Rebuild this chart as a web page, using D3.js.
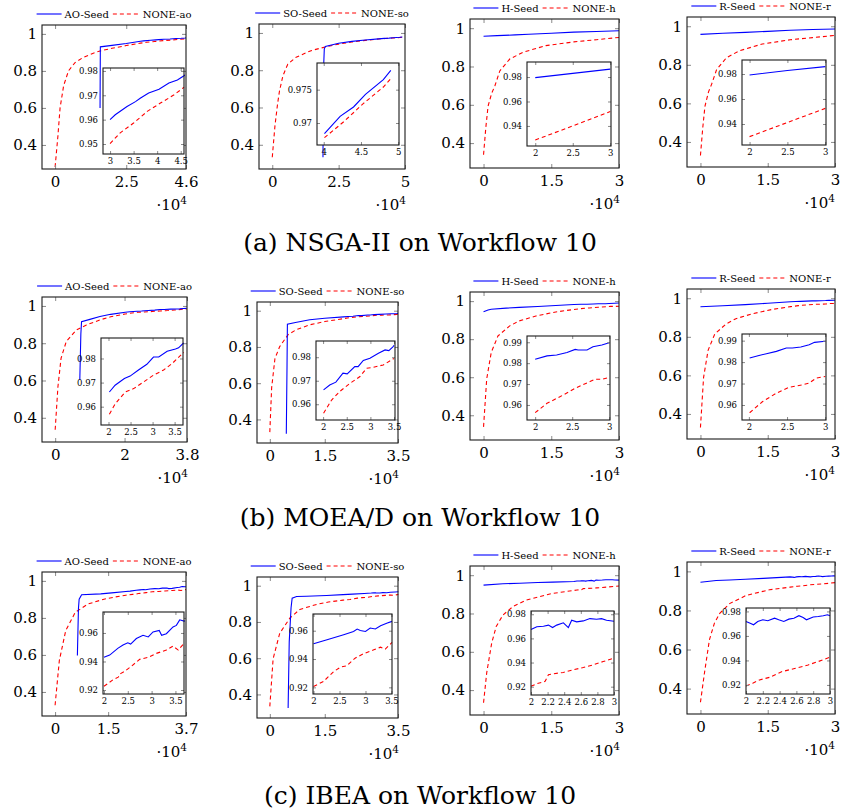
<!DOCTYPE html>
<html>
<head>
<meta charset="utf-8">
<script src="https://cdn.jsdelivr.net/npm/d3@7"></script>
<style>
  body { margin: 0; background: #fff; }
  svg text { font-family: "DejaVu Serif", serif; fill: #000; }
</style>
</head>
<body>
<div id="chart"></div>
<script>
// ---- data (x in units of 10^4 evaluations) ----
const captions = ["(a) NSGA-II on Workflow 10", "(b) MOEA/D on Workflow 10", "(c) IBEA on Workflow 10"];
const seedNames = ["AO-Seed", "SO-Seed", "H-Seed", "R-Seed"];
const noneNames = ["NONE-ao", "NONE-so", "NONE-h", "NONE-r"];

const mainYTicks = [0.4, 0.6, 0.8, 1];
const mainXTicks = [
  [0, 2.5, 4.6], [0, 2.5, 5], [0, 1.5, 3], [0, 1.5, 3],
  [0, 2, 3.8], [0, 1.5, 3.5], [0, 1.5, 3], [0, 1.5, 3],
  [0, 1.5, 3.7], [0, 1.5, 3.5], [0, 1.5, 3], [0, 1.5, 3]
];
const zoomXTicks = [
  [3, 3.5, 4, 4.5], [4, 4.5, 5], [2, 2.5, 3], [2, 2.5, 3],
  [2, 2.5, 3, 3.5], [2, 2.5, 3, 3.5], [2, 2.5, 3], [2, 2.5, 3],
  [2, 2.5, 3, 3.5], [2, 2.5, 3, 3.5], [2, 2.2, 2.4, 2.6, 2.8, 3], [2, 2.2, 2.4, 2.6, 2.8, 3]
];
const zoomYTicks = [
  [0.95, 0.96, 0.97, 0.98], [0.97, 0.975], [0.94, 0.96, 0.98], [0.94, 0.96, 0.98],
  [0.96, 0.97, 0.98], [0.96, 0.97, 0.98], [0.96, 0.97, 0.98, 0.99], [0.96, 0.97, 0.98, 0.99],
  [0.92, 0.94, 0.96], [0.92, 0.94, 0.96], [0.92, 0.94, 0.96, 0.98], [0.92, 0.94, 0.96, 0.98]
];

// NSGA-II
const nsgaAoSeed = [[1.58,0.60],[1.59,0.93],[2.0,0.938],[2.5,0.948],[3.0,0.96],[3.11,0.962],[3.36,0.9654],[3.54,0.9674],[3.64,0.9688],[3.82,0.9709],[4.04,0.9725],[4.25,0.975],[4.43,0.9763],[4.57,0.978],[4.6,0.9785]];
const nsgaAoNone = [[0,0.28],[0.1,0.45],[0.175,0.6],[0.3,0.72],[0.47,0.8],[0.7,0.845],[0.98,0.872],[1.3,0.893],[1.58,0.908],[2.0,0.922],[2.5,0.937],[3.0,0.9502],[3.21,0.9545],[3.5,0.9586],[3.79,0.9634],[4.07,0.9668],[4.36,0.9702],[4.57,0.9733]];
const nsgaSoSeed = [[1.91,0.333],[1.93,0.8],[1.96,0.915],[2.0,0.928],[2.5,0.945],[3.0,0.955],[3.5,0.962],[4.01,0.9684],[4.22,0.971],[4.4,0.9724],[4.56,0.9743],[4.8,0.9765],[4.9,0.9779]];
const nsgaSoNone = [[0,0.333],[0.1,0.5],[0.2,0.62],[0.27,0.687],[0.4,0.77],[0.585,0.833],[0.9,0.87],[1.46,0.905],[2.0,0.925],[2.5,0.94],[3.0,0.951],[3.5,0.96],[4.01,0.9678],[4.27,0.9702],[4.53,0.9729],[4.8,0.9754],[4.91,0.9768]];
const nsgaHSeed = [[0,0.958],[0.3,0.961],[0.7,0.965],[1.0,0.968],[1.5,0.9735],[2.0,0.9795],[2.5,0.983],[3.0,0.9865]];
const nsgaHNone = [[0,0.339],[0.05,0.48],[0.1,0.593],[0.18,0.66],[0.25,0.698],[0.36,0.777],[0.58,0.839],[0.87,0.874],[1.38,0.909],[2.0,0.9285],[2.5,0.94],[3.0,0.9518]];
const nsgaRSeed = [[0,0.958],[0.5,0.9635],[1.0,0.968],[1.5,0.9735],[2.0,0.9792],[2.5,0.9828],[3.0,0.9859]];
const nsgaRNone = [[0,0.33],[0.05,0.47],[0.1,0.585],[0.18,0.66],[0.25,0.7],[0.36,0.775],[0.58,0.837],[0.87,0.873],[1.38,0.908],[2.0,0.9299],[2.5,0.9412],[3.0,0.9525]];

// MOEA/D
const moeadAoSeed = [[0.71,0.604],[0.74,0.85],[0.76,0.916],[1.0,0.928],[1.29,0.943],[1.6,0.955],[2.02,0.9661],[2.15,0.9689],[2.36,0.9717],[2.49,0.9727],[2.68,0.9752],[2.87,0.9776],[3.02,0.9806],[3.14,0.9806],[3.33,0.983],[3.52,0.9839],[3.59,0.9844],[3.69,0.9862],[3.79,0.987]];
const moeadAoNone = [[0,0.336],[0.08,0.568],[0.17,0.72],[0.32,0.809],[0.61,0.871],[0.9,0.898],[1.29,0.925],[1.6,0.942],[2.02,0.9569],[2.15,0.9611],[2.38,0.9661],[2.57,0.9675],[2.8,0.9703],[3.02,0.9731],[3.25,0.9752],[3.45,0.978],[3.69,0.9823],[3.79,0.983]];
const moeadSoSeed = [[0.45,0.321],[0.47,0.7],[0.48,0.925],[0.7,0.935],[1.09,0.95],[1.5,0.958],[2.01,0.9661],[2.14,0.9682],[2.27,0.9694],[2.42,0.9732],[2.51,0.9729],[2.67,0.976],[2.74,0.976],[2.85,0.9786],[2.99,0.9796],[3.17,0.9817],[3.31,0.9831],[3.39,0.9828],[3.47,0.9843],[3.5,0.985]];
const moeadSoNone = [[0,0.33],[0.05,0.575],[0.14,0.736],[0.27,0.802],[0.5,0.868],[0.73,0.896],[1.09,0.922],[1.5,0.94],[2.01,0.9562],[2.18,0.9618],[2.35,0.9654],[2.57,0.9689],[2.78,0.9718],[2.92,0.9753],[3.06,0.9757],[3.27,0.9767],[3.47,0.9791],[3.5,0.9795]];
const moeadHSeed = [[0,0.944],[0.1,0.953],[0.17,0.957],[0.5,0.963],[0.79,0.967],[1.2,0.972],[1.6,0.977],[2.0,0.9819],[2.16,0.9835],[2.29,0.9839],[2.43,0.9851],[2.54,0.9866],[2.58,0.9863],[2.7,0.9863],[2.78,0.9879],[2.9,0.9887],[3.0,0.9898]];
const moeadHNone = [[0,0.339],[0.07,0.591],[0.17,0.73],[0.32,0.817],[0.58,0.87],[0.79,0.896],[1.16,0.922],[1.6,0.943],[2.0,0.9563],[2.16,0.9608],[2.34,0.964],[2.54,0.968],[2.74,0.9712],[2.81,0.9723],[2.9,0.9723],[3.0,0.9732]];
const moeadRSeed = [[0,0.956],[0.5,0.961],[1.0,0.967],[1.5,0.974],[2.01,0.9819],[2.12,0.983],[2.23,0.9839],[2.36,0.985],[2.49,0.9866],[2.57,0.9866],[2.68,0.987],[2.79,0.9881],[2.86,0.9892],[3.0,0.9897]];
const moeadRNone = [[0,0.33],[0.07,0.59],[0.17,0.73],[0.32,0.815],[0.58,0.868],[0.79,0.894],[1.16,0.92],[1.6,0.942],[2.01,0.9564],[2.18,0.9616],[2.36,0.9655],[2.53,0.9683],[2.7,0.9694],[2.79,0.9702],[2.88,0.9725],[3.0,0.9733]];

// IBEA
const ibeaAoSeed = [[0.63,0.597],[0.66,0.85],[0.68,0.901],[0.75,0.925],[1.29,0.93],[1.6,0.935],[2.0,0.9429],[2.12,0.9445],[2.29,0.9492],[2.4,0.9515],[2.5,0.9531],[2.56,0.9522],[2.68,0.9561],[2.82,0.9584],[2.93,0.9572],[3.03,0.9607],[3.16,0.9618],[3.21,0.9584],[3.31,0.9595],[3.45,0.9642],[3.52,0.9653],[3.59,0.9692],[3.68,0.9683],[3.7,0.9685]];
const ibeaAoNone = [[0,0.328],[0.12,0.57],[0.3,0.731],[0.57,0.83],[0.93,0.875],[1.38,0.901],[1.7,0.913],[2.0,0.9226],[2.19,0.9272],[2.3,0.929],[2.35,0.9315],[2.43,0.933],[2.57,0.9365],[2.75,0.9415],[2.93,0.9429],[3.1,0.9457],[3.31,0.948],[3.45,0.9508],[3.56,0.948],[3.68,0.9526],[3.7,0.953]];
const ibeaSoSeed = [[0.5,0.325],[0.53,0.69],[0.58,0.878],[0.61,0.931],[0.73,0.94],[1.0,0.942],[1.55,0.946],[2.0,0.9508],[2.26,0.9536],[2.58,0.9572],[2.77,0.9595],[2.84,0.9612],[2.9,0.9602],[3.0,0.9595],[3.09,0.9619],[3.19,0.9612],[3.29,0.9635],[3.42,0.9654],[3.51,0.9666]];
const ibeaSoNone = [[0,0.334],[0.09,0.597],[0.27,0.737],[0.55,0.822],[0.82,0.869],[1.28,0.897],[1.6,0.91],[2.0,0.9206],[2.19,0.9241],[2.39,0.9312],[2.52,0.9343],[2.64,0.9352],[2.8,0.9406],[2.96,0.9437],[3.16,0.9465],[3.29,0.9484],[3.38,0.947],[3.51,0.9517]];
const ibeaHSeed = [[0,0.948],[0.43,0.955],[0.8,0.958],[1.2,0.962],[1.53,0.964],[2.0,0.9674],[2.07,0.9696],[2.15,0.9701],[2.21,0.971],[2.26,0.969],[2.31,0.971],[2.39,0.9729],[2.45,0.969],[2.49,0.9751],[2.55,0.9737],[2.63,0.9745],[2.71,0.9764],[2.79,0.9759],[2.85,0.9764],[2.91,0.9751],[3.0,0.9742]];
const ibeaHNone = [[0,0.334],[0.07,0.49],[0.18,0.645],[0.28,0.732],[0.43,0.792],[0.65,0.836],[0.94,0.87],[1.53,0.905],[2.0,0.9203],[2.07,0.9225],[2.17,0.9244],[2.21,0.9299],[2.27,0.9307],[2.39,0.9318],[2.51,0.934],[2.63,0.9359],[2.75,0.9381],[2.87,0.9408],[3.0,0.9436]];
const ibeaRSeed = [[0,0.944],[0.35,0.953],[0.65,0.956],[1.0,0.96],[1.4,0.964],[2.0,0.9718],[2.05,0.9704],[2.09,0.9691],[2.14,0.9718],[2.2,0.9732],[2.26,0.9724],[2.34,0.9745],[2.39,0.9732],[2.45,0.9718],[2.51,0.9737],[2.57,0.9745],[2.63,0.9765],[2.68,0.9751],[2.72,0.9732],[2.8,0.9754],[2.86,0.9759],[2.92,0.9765],[2.97,0.9773],[3.0,0.9765]];
const ibeaRNone = [[0,0.33],[0.09,0.481],[0.2,0.65],[0.31,0.734],[0.43,0.785],[0.65,0.835],[1.02,0.877],[1.54,0.906],[2.0,0.9192],[2.08,0.9213],[2.16,0.9241],[2.28,0.9262],[2.43,0.9309],[2.59,0.9336],[2.74,0.9363],[2.86,0.9391],[3.0,0.9426]];

const seedSeries = [nsgaAoSeed, nsgaSoSeed, nsgaHSeed, nsgaRSeed, moeadAoSeed, moeadSoSeed, moeadHSeed, moeadRSeed, ibeaAoSeed, ibeaSoSeed, ibeaHSeed, ibeaRSeed];
const noneSeries = [nsgaAoNone, nsgaSoNone, nsgaHNone, nsgaRNone, moeadAoNone, moeadSoNone, moeadHNone, moeadRNone, ibeaAoNone, ibeaSoNone, ibeaHNone, ibeaRNone];

// ---- layout (pixels) ----
// main axis box: [left, right, top, bottom]
const mainBoxes = [
  [42, 186, 25, 169], [259, 405, 24, 169], [470, 619, 19, 168], [687, 835, 17, 167],
  [42, 187, 297, 442], [257, 398, 302, 443], [470, 619, 292, 440], [687, 835, 289, 439],
  [42, 186, 572, 716], [257, 398, 577, 718], [470, 619, 566, 715], [687, 835, 562, 714]
];
// zoomed inset box and its domain [xmin, xmax, ymin, ymax]
const insetBoxes = [
  [103, 184, 68, 154], [317, 399, 63, 145], [527, 611, 62, 146], [742, 826, 60, 145],
  [101, 183, 338, 425], [316, 395, 341, 420], [527, 610, 336, 420], [742, 826, 334, 420],
  [103, 184, 612, 694], [313, 392, 614, 694], [531, 614, 611, 695], [746, 830, 608, 694]
];
const insetDomains = [
  [2.85, 4.57, 0.9459, 0.9812], [3.91, 5.01, 0.9667, 0.979], [1.89, 3.01, 0.9236, 0.9923], [1.9, 3.01, 0.9232, 0.9912],
  [1.83, 3.69, 0.9524, 0.9885], [1.85, 3.52, 0.9533, 0.9869], [1.89, 3.01, 0.9528, 0.993], [1.91, 3.01, 0.953, 0.9931],
  [1.98, 3.68, 0.9172, 0.9747], [1.99, 3.51, 0.9153, 0.9718], [2, 3, 0.9131, 0.9827], [2, 3, 0.9126, 0.9828]
];
const captionY = [251, 526, 804];

const BLUE = "#0000ff", RED = "#ff0000";

const svg = d3.select("#chart").append("svg")
    .attr("width", 841)
    .attr("height", 812);
const defs = svg.append("defs");

function styleAxis(g, fontSize) {
    g.select(".domain").remove();
    g.selectAll(".tick line").attr("stroke", "#8a8a8a").attr("stroke-width", 1);
    g.selectAll(".tick text")
        .attr("font-family", "DejaVu Serif, serif")
        .attr("font-size", fontSize)
        .attr("fill", "#000");
    g.attr("font-family", null).attr("font-size", null);
}

// draws frame + inward ticks on all four sides
function drawAxes(g, x, y, xt, yt, tickLen, fontSize, padX, padY) {
    const [x0, x1] = x.range();
    const [y1, y0] = y.range();
    const fmt = d => String(+d.toFixed(4));

    g.append("g").attr("transform", `translate(0,${y1})`)
        .call(d3.axisBottom(x).tickValues(xt).tickSize(-tickLen).tickSizeOuter(0).tickPadding(padX).tickFormat(fmt))
        .call(a => styleAxis(a, fontSize));
    g.append("g").attr("transform", `translate(0,${y0})`)
        .call(d3.axisTop(x).tickValues(xt).tickSize(-tickLen).tickSizeOuter(0).tickFormat(""))
        .call(a => styleAxis(a, fontSize));
    g.append("g").attr("transform", `translate(${x0},0)`)
        .call(d3.axisLeft(y).tickValues(yt).tickSize(-tickLen).tickSizeOuter(0).tickPadding(padY).tickFormat(fmt))
        .call(a => styleAxis(a, fontSize));
    g.append("g").attr("transform", `translate(${x1},0)`)
        .call(d3.axisRight(y).tickValues(yt).tickSize(-tickLen).tickSizeOuter(0).tickFormat(""))
        .call(a => styleAxis(a, fontSize));

    g.append("rect")
        .attr("x", x0).attr("y", y0)
        .attr("width", x1 - x0).attr("height", y1 - y0)
        .attr("fill", "none")
        .attr("stroke", "#1a1a1a")
        .attr("stroke-width", 1.1);
}

function drawLines(g, x, y, seed, none, clipId) {
    const line = d3.line().x(d => x(d[0])).y(d => y(d[1]));
    const lg = g.append("g").attr("clip-path", `url(#${clipId})`);
    lg.append("path").attr("d", line(none))
        .attr("fill", "none").attr("stroke", RED).attr("stroke-width", 1.1)
        .attr("stroke-dasharray", "4,3");
    lg.append("path").attr("d", line(seed))
        .attr("fill", "none").attr("stroke", BLUE).attr("stroke-width", 1.1);
}

function addClip(id, box) {
    defs.append("clipPath").attr("id", id)
        .append("rect")
        .attr("x", box[0] - 1).attr("y", box[2] - 1)
        .attr("width", box[1] - box[0] + 2).attr("height", box[3] - box[2] + 2);
}

d3.range(12).forEach(i => {
    const col = i % 4;
    const [bx0, bx1, by0, by1] = mainBoxes[i];
    const xt = mainXTicks[i];
    const xMax = xt[xt.length - 1];

    const x = d3.scaleLinear().domain([-0.1 * xMax, xMax]).range([bx0, bx1]);
    const y = d3.scaleLinear().domain([0.27, 1.048]).range([by1, by0]);

    const g = svg.append("g").attr("class", "panel" + i);

    addClip("clipMain" + i, mainBoxes[i]);
    drawLines(g, x, y, seedSeries[i], noneSeries[i], "clipMain" + i);
    drawAxes(g, x, y, xt, mainYTicks, 4, 15, 7, 5);

    // x-axis scale label
    const sc = g.append("text")
        .attr("x", Math.min(bx1 + 1, 835))
        .attr("y", by1 + 41)
        .attr("text-anchor", "end")
        .attr("font-size", 15)
        .text("·10");
    sc.append("tspan").attr("dy", -6).attr("font-size", 10.5).text("4");

    // legend above the box
    const leg = g.append("g");
    const ly = by0 - 11;
    const t1 = leg.append("text").attr("font-size", 10).attr("y", ly + 3.5).text(seedNames[col]);
    const t2 = leg.append("text").attr("font-size", 10).attr("y", ly + 3.5).text(noneNames[col]);
    const w1 = t1.node().getComputedTextLength();
    const w2 = t2.node().getComputedTextLength();
    const total = 25 + 3 + w1 + 4 + 25 + 5 + w2;
    let lx = (bx0 + bx1) / 2 - total / 2;
    leg.append("line").attr("x1", lx).attr("x2", lx + 25).attr("y1", ly).attr("y2", ly)
        .attr("stroke", BLUE).attr("stroke-width", 1.1);
    t1.attr("x", lx + 28);
    lx += 28 + w1 + 4;
    leg.append("line").attr("x1", lx).attr("x2", lx + 25).attr("y1", ly).attr("y2", ly)
        .attr("stroke", RED).attr("stroke-width", 1.1).attr("stroke-dasharray", "4,3");
    t2.attr("x", lx + 30);

    // zoomed inset
    const ib = insetBoxes[i];
    const dom = insetDomains[i];
    const zx = d3.scaleLinear().domain([dom[0], dom[1]]).range([ib[0], ib[1]]);
    const zy = d3.scaleLinear().domain([dom[2], dom[3]]).range([ib[3], ib[2]]);
    const start = zoomXTicks[i][0] - 1e-9;
    const ig = g.append("g");
    ig.append("rect")
        .attr("x", ib[0]).attr("y", ib[2])
        .attr("width", ib[1] - ib[0]).attr("height", ib[3] - ib[2])
        .attr("fill", "#fff");
    addClip("clipZoom" + i, ib);
    drawLines(ig, zx, zy,
        seedSeries[i].filter(d => d[0] >= start),
        noneSeries[i].filter(d => d[0] >= start),
        "clipZoom" + i);
    drawAxes(ig, zx, zy, zoomXTicks[i], zoomYTicks[i], 3, 8.5, 4, 5);
});

captions.forEach((c, r) => {
    svg.append("text")
        .attr("x", 420)
        .attr("y", captionY[r])
        .attr("text-anchor", "middle")
        .attr("font-size", 25)
        .text(c);
});
</script>
</body>
</html>
